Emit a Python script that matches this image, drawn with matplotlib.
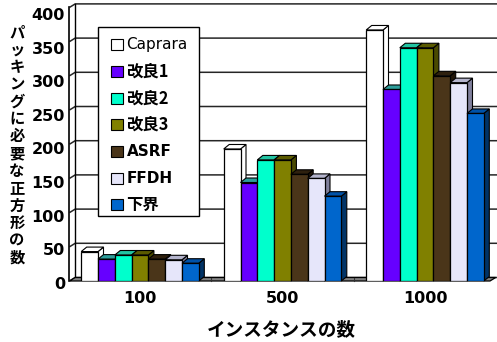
import matplotlib
matplotlib.use('Agg')
import matplotlib.pyplot as plt
from matplotlib.patches import Polygon, Rectangle
import numpy as np

plt.rcParams['font.family'] = ['Noto Sans CJK JP', 'DejaVu Sans']

# ---------------- data ----------------
categories = ['100', '500', '1000']
series_names = ['Caprara', '改良1', '改良2', '改良3', 'ASRF', 'FFDH', '下界']
caprara = [43, 193, 367]
kairyo1 = [32, 144, 280]
kairyo2 = [38, 177, 341]
kairyo3 = [38, 177, 341]
asrf = [32, 156, 300]
ffdh = [31, 150, 290]
kakai = [26, 124, 245]
yticks = [0, 50, 100, 150, 200, 250, 300, 350, 400]
xlabel = 'インスタンスの数'
ylabel = 'パッキングに必要な正方形の数'

values = [caprara, kairyo1, kairyo2, kairyo3, asrf, ffdh, kakai]
face_colors = ['#FFFFFF', '#6600FF', '#00FFCC', '#808000', '#4A3519', '#E6E6FA', '#0066CC']
top_colors = ['#FFFFFF', '#2E9E9A', '#22C4A2', '#5A5A00', '#2E200E', '#B4B4CC', '#0052A8']
side_colors = ['#FFFFFF', '#3A0099', '#00A88A', '#4A4A00', '#22170A', '#80809C', '#003366']

# ---------------- figure ----------------
W, H = 497, 342
fig = plt.figure(figsize=(W / 100, H / 100), dpi=100)

def fx(px):
    return px / W

def fy(py):
    return 1 - py / H

ax_left_px, ax_right_px = 69.5, 490.0
ax_zero_px, ax_top_px = 281.0, 7.4
ax = fig.add_axes([fx(ax_left_px), fy(ax_zero_px),
                   (ax_right_px - ax_left_px) / W, (ax_zero_px - ax_top_px) / H])
group_px = 142.5
first_center_px = 140.0
xl = -(first_center_px - ax_left_px) / group_px
xr = (ax_right_px - first_center_px) / group_px
ymax = 400
ax.set_xlim(xl, xr)
ax.set_ylim(0, ymax)
for s in ax.spines.values():
    s.set_visible(False)
ax.patch.set_visible(False)

px_x = (ax_right_px - ax_left_px) / (xr - xl)
px_y = (ax_zero_px - ax_top_px) / ymax

def ddx(p):
    return p / px_x

def ddy(p):
    return p / px_y

# walls
wdx, wdy = ddx(5.7), ddy(3.5)
edge = 'black'
back = Polygon([(xl + wdx, wdy), (xr + wdx, wdy), (xr + wdx, ymax + wdy), (xl + wdx, ymax + wdy)],
               closed=True, facecolor='white', edgecolor='none', zorder=1, clip_on=False)
ax.add_patch(back)
for v in yticks:
    ax.plot([xl, xl + wdx, xr + wdx + ddx(2)], [v, v + wdy, v + wdy], color='#262626',
            lw=1.1, zorder=2, clip_on=False, solid_capstyle='butt')
ax.plot([xl + wdx, xl + wdx], [wdy, ymax + wdy], color=edge, lw=1.0, zorder=2, clip_on=False)
ax.plot([xl, xl], [0, ymax], color=edge, lw=1.2, zorder=2, clip_on=False)
floor = Polygon([(xl, 0), (xr, 0), (xr + wdx, wdy), (xl + wdx, wdy)], closed=True,
                facecolor='#808080', edgecolor=edge, lw=0.9, zorder=3, clip_on=False)
ax.add_patch(floor)
for b in [0.5, 1.5]:
    ax.plot([b, b], [0, wdy], color='#333333', lw=0.8, zorder=3, clip_on=False)

# bars
n = len(values)
w = 16.8 / group_px
bdx, bdy = ddx(5.5), ddy(4.5)
x = np.arange(len(categories))
for i, (vals, fc, tc, sc) in enumerate(zip(values, face_colors, top_colors, side_colors)):
    base = 10 + 3 * i
    bars = ax.bar(x + (i - (n - 1) / 2) * w, vals, width=w, color=fc, edgecolor='black',
                  lw=0.9, zorder=base + 2, label=series_names[i])
    for r in bars:
        x0, bw, h = r.get_x(), r.get_width(), r.get_height()
        top = Polygon([(x0, h), (x0 + bw, h), (x0 + bw + bdx, h + bdy), (x0 + bdx, h + bdy)],
                      closed=True, facecolor=tc, edgecolor='black', lw=0.8,
                      zorder=base + 1, clip_on=False)
        side = Polygon([(x0 + bw, 0), (x0 + bw + bdx, bdy), (x0 + bw + bdx, h + bdy), (x0 + bw, h)],
                       closed=True, facecolor=sc, edgecolor='black', lw=0.8,
                       zorder=base, clip_on=False)
        ax.add_patch(top)
        ax.add_patch(side)

ax.set_xticks(x)
ax.set_xticklabels(categories, fontsize=11.5, fontweight='bold', family='DejaVu Sans')
ax.tick_params(axis='x', length=0, pad=7)
ax.set_yticks([])

# y tick labels on an invisible helper axis
lab0_px, lab400_px = 283.0, 14.0
axl = fig.add_axes([fx(ax_left_px), fy(lab0_px), 0.001, (lab0_px - lab400_px) / H])
axl.set_ylim(0, ymax)
axl.set_yticks(yticks)
axl.set_yticklabels([str(t) for t in yticks], fontsize=11.5, fontweight='bold', family='DejaVu Sans')
axl.tick_params(axis='y', length=0, pad=3.3)
axl.set_xticks([])
for s in axl.spines.values():
    s.set_visible(False)
axl.patch.set_visible(False)

# x label
fig.text(fx(281.5), fy(329.5), xlabel, fontsize=13.4, fontweight='bold', ha='center', va='center')

# vertical y label, stacked characters
y0, step = 32.0, 17.35
for k, ch in enumerate(ylabel):
    fig.text(fx(17), fy(y0 + k * step), ch, fontsize=11, fontweight='bold', ha='center', va='center')

# legend
lx0, ly0, lx1, ly1 = 98, 27, 199, 216
fig.add_artist(Rectangle((fx(lx0), fy(ly1)), (lx1 - lx0) / W, (ly1 - ly0) / H,
                         transform=fig.transFigure, facecolor='white', edgecolor='black', lw=1.0,
                         zorder=50))
row0, rstep = 44.7, 26.7
for i, name in enumerate(series_names):
    cy = row0 + i * rstep
    fig.add_artist(Rectangle((fx(111.3), fy(cy + 5.6)), 11.2 / W, 11.2 / H,
                             transform=fig.transFigure, facecolor=face_colors[i],
                             edgecolor='black', lw=0.8, zorder=51))
    is_latin = name.isascii()
    fig.text(fx(126.5), fy(cy), name,
             fontsize=11 if is_latin else 11.8,
             family=['DejaVu Sans'] if is_latin else ['Noto Sans CJK JP', 'DejaVu Sans'],
             fontweight='normal' if name == 'Caprara' else 'bold',
             ha='left', va='center', zorder=52)

fig.savefig('out.png', dpi=100)
